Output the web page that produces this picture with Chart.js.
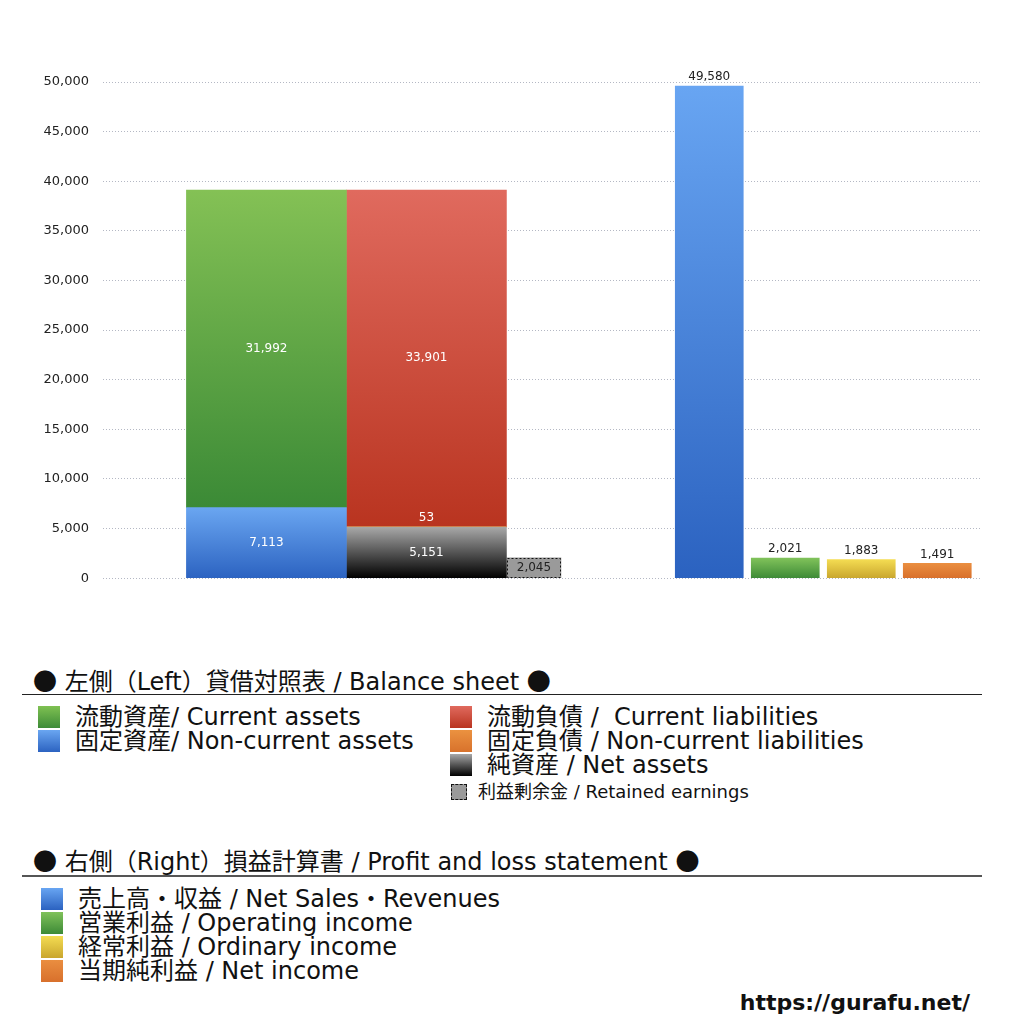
<!DOCTYPE html>
<html lang="ja">
<head>
<meta charset="utf-8">
<script src="https://cdn.jsdelivr.net/npm/chart.js@4.4.1/dist/chart.umd.min.js"></script>
<style>
  body { margin: 0; background: #fff; font-family: "DejaVu Sans", "Noto Sans CJK JP", sans-serif; color: #111; }
  #wrap { position: relative; width: 1024px; height: 1024px; overflow: hidden; }
  #box { position: absolute; left: 0; top: 0; width: 1024px; height: 600px; }
  .t { position: absolute; white-space: nowrap; font-size: 24px; line-height: 24px; }
  .small { font-size: 18px; line-height: 18px; }
  .dot { font-family: "Noto Sans CJK JP", sans-serif; }
  .rule { position: absolute; left: 22px; width: 960px; height: 1px; background: #222; }
  .sw { position: absolute; width: 22px; height: 22px; }
  .url { position: absolute; right: 54px; top: 990px; font-family: "DejaVu Sans", sans-serif; font-weight: bold; font-size: 22px; }
</style>
</head>
<body>
<div id="wrap">
  <div id="box"><canvas id="bsChart"></canvas></div>

  <div class="t" style="left:33px; top:668px;"><span class="dot">●</span> 左側（Left）貸借対照表 / Balance sheet <span class="dot">●</span></div>
  <div class="rule" style="top:694px;"></div>

  <div class="sw" style="left:38px; top:706px; background:linear-gradient(#7fc152,#3d8b37);"></div>
  <div class="t" style="left:75px; top:705px;">流動資産/ Current assets</div>
  <div class="sw" style="left:38px; top:730px; background:linear-gradient(#6aa6f1,#2c63c1);"></div>
  <div class="t" style="left:75px; top:729px;">固定資産/ Non-current assets</div>

  <div class="sw" style="left:450px; top:706px; background:linear-gradient(#e06a5e,#b93420);"></div>
  <div class="t" style="left:487px; top:705px;">流動負債 / &nbsp;Current liabilities</div>
  <div class="sw" style="left:450px; top:730px; background:linear-gradient(#eb9240,#d8722c);"></div>
  <div class="t" style="left:487px; top:729px;">固定負債 / Non-current liabilities</div>
  <div class="sw" style="left:450px; top:754px; background:linear-gradient(#a8a8a8,#000);"></div>
  <div class="t" style="left:487px; top:753px;">純資産 / Net assets</div>
  <div class="sw" style="left:451px; top:784px; width:14px; height:14px; background:#9a9a9a; border:1px dashed #111;"></div>
  <div class="t small" style="left:478px; top:783px;">利益剰余金 / Retained earnings</div>

  <div class="t" style="left:33px; top:848px;"><span class="dot">●</span> 右側（Right）損益計算書 / Profit and loss statement <span class="dot">●</span></div>
  <div class="rule" style="top:875px; background:#555; height:1.5px;"></div>

  <div class="sw" style="left:41px; top:888px; background:linear-gradient(#68a5f2,#2b62c0);"></div>
  <div class="t" style="left:78px; top:887px;">売上高・収益 / Net Sales・Revenues</div>
  <div class="sw" style="left:41px; top:912px; background:linear-gradient(#80c25a,#3d8a37);"></div>
  <div class="t" style="left:78px; top:911px;">営業利益 / Operating income</div>
  <div class="sw" style="left:41px; top:936px; background:linear-gradient(#f4dc52,#c9a62e);"></div>
  <div class="t" style="left:78px; top:935px;">経常利益 / Ordinary income</div>
  <div class="sw" style="left:41px; top:960px; background:linear-gradient(#ea8e40,#d8702c);"></div>
  <div class="t" style="left:78px; top:959px;">当期純利益 / Net income</div>

  <div class="url">https://gurafu.net/</div>
</div>

<script>
// groups on the x axis: left = balance sheet, right = profit and loss
const groups = ['貸借対照表', '損益計算書'];

const nonCurrentAssets = [7113, null];
const currentAssets = [31992, null];
const netAssets = [5151, null];
const nonCurrentLiabilities = [53, null];
const currentLiabilities = [33901, null];
const retainedEarnings = [2045, null];

const netSales = [null, 49580];
const operatingIncome = [null, 2021];
const ordinaryIncome = [null, 1883];
const netIncome = [null, 1491];

const yMax = 50000;
const yStep = 5000;

// vertical gradient over each bar segment (light top, dark bottom)
function grad(top, bottom) {
  return (c) => {
    const chart = c.chart;
    if (!chart.chartArea || c.type !== 'data') return bottom;
    const all = chart.data.datasets;
    const me = all[c.datasetIndex];
    let base = 0;
    for (let i = 0; i < c.datasetIndex; i++) {
      const v = all[i].data[c.dataIndex];
      if (all[i].stack === me.stack && v != null) base += v;
    }
    const y = chart.scales.y;
    const val = me.data[c.dataIndex] || 0;
    const g = chart.ctx.createLinearGradient(0, y.getPixelForValue(base + val), 0, y.getPixelForValue(base));
    g.addColorStop(0, top);
    g.addColorStop(1, bottom);
    return g;
  };
}

const valueLabels = {
  id: 'valueLabels',
  afterDatasetsDraw(chart) {
    const ctx = chart.ctx;
    ctx.save();
    ctx.font = '12px "DejaVu Sans", sans-serif';
    ctx.textAlign = 'center';
    ctx.textBaseline = 'middle';
    chart.data.datasets.forEach((ds, i) => {
      chart.getDatasetMeta(i).data.forEach((bar, j) => {
        const v = ds.data[j];
        if (v == null) return;
        const h = bar.base - bar.y;
        if (ds.dashed) {
          ctx.setLineDash([2, 2]);
          ctx.strokeStyle = '#111';
          ctx.lineWidth = 1;
          ctx.strokeRect(Math.round(bar.x - bar.width / 2) + 0.5, Math.round(bar.y) + 0.5, Math.round(bar.width) - 1, Math.round(h) - 1);
          ctx.setLineDash([]);
        }
        const above = ds.labelTop || h < 16;
        ctx.fillStyle = ds.labelColor;
        ctx.fillText(v.toLocaleString('en-US'), bar.x, above ? bar.y - 9 : bar.y + h / 2);
      });
    });
    ctx.restore();
  }
};

const datasets = [
  { label: '固定資産/ Non-current assets', data: nonCurrentAssets, stack: 'assets',
    backgroundColor: grad('#6aa6f1', '#2c63c1'), barThickness: 160, labelColor: '#fff' },
  { label: '流動資産/ Current assets', data: currentAssets, stack: 'assets',
    backgroundColor: grad('#84c155', '#3b8a36'), barThickness: 160, labelColor: '#fff' },
  { label: '純資産 / Net assets', data: netAssets, stack: 'liabilities',
    backgroundColor: grad('#a8a8a8', '#000000'), barThickness: 160, labelColor: '#fff' },
  { label: '固定負債 / Non-current liabilities', data: nonCurrentLiabilities, stack: 'liabilities',
    backgroundColor: '#e48a3a', barThickness: 160, labelColor: '#fff' },
  { label: '流動負債 / Current liabilities', data: currentLiabilities, stack: 'liabilities',
    backgroundColor: grad('#e06a5e', '#b93420'), barThickness: 160, labelColor: '#fff' },
  { label: '利益剰余金 / Retained earnings', data: retainedEarnings, stack: 'retained',
    backgroundColor: '#9a9a9a', barThickness: 107.5, maxBarThickness: 54, dashed: true, labelColor: '#222' },
  { label: '売上高・収益 / Net Sales・Revenues', data: netSales, stack: 'sales',
    backgroundColor: grad('#68a5f2', '#2b62c0'), barThickness: 76, maxBarThickness: 68, labelTop: true, labelColor: '#222' },
  { label: '営業利益 / Operating income', data: operatingIncome, stack: 'operating',
    backgroundColor: grad('#80c25a', '#3d8a37'), barThickness: 76, maxBarThickness: 68, labelTop: true, labelColor: '#222' },
  { label: '経常利益 / Ordinary income', data: ordinaryIncome, stack: 'ordinary',
    backgroundColor: grad('#f4dc52', '#c9a62e'), barThickness: 76, maxBarThickness: 68, labelTop: true, labelColor: '#222' },
  { label: '当期純利益 / Net income', data: netIncome, stack: 'net',
    backgroundColor: grad('#ea8e40', '#d8702c'), barThickness: 76, maxBarThickness: 68, labelTop: true, labelColor: '#222' }
];

new Chart(document.getElementById('bsChart'), {
  type: 'bar',
  data: { labels: groups.map((g, i) => i), datasets },
  options: {
    responsive: true,
    maintainAspectRatio: false,
    animation: false,
    skipNull: true,
    borderWidth: 0,
    layout: { padding: { top: 82, right: 42, bottom: 18, left: 0 } },
    plugins: { legend: { display: false }, tooltip: { enabled: false } },
    scales: {
      x: {
        type: 'linear',
        display: false,
        offset: false,
        min: -0.815,
        max: 1.4,
        grid: { display: false }
      },
      y: {
        min: 0,
        max: yMax,
        afterFit: (axis) => { axis.width = 103; },
        ticks: {
          stepSize: yStep,
          padding: 14,
          color: '#222',
          font: { family: '"DejaVu Sans", sans-serif', size: 13 },
          callback: (v) => v.toLocaleString('en-US')
        },
        grid: { color: '#b4b8c4', drawTicks: false },
        border: { display: false, dash: [1, 2] }
      }
    }
  },
  plugins: [valueLabels]
});
</script>
</body>
</html>
